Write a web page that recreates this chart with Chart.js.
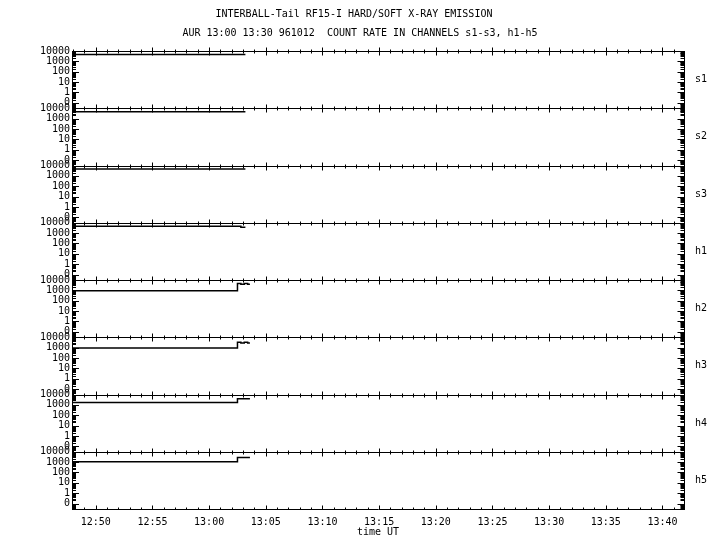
<!DOCTYPE html>
<html>
<head>
<meta charset="utf-8">
<script src="https://cdn.jsdelivr.net/npm/chart.js@4/dist/chart.umd.min.js"></script>
<style>
  body { margin: 0; background: #fff; }
  canvas { display: block; }
</style>
</head>
<body>
<canvas id="xray" width="720" height="550"></canvas>
<script>
// channel names, top panel first
const channels = ['s1', 's2', 's3', 'h1', 'h2', 'h3', 'h4', 'h5'];

// sample times, minutes after 12:00 UT
const sTimes = [47.9, 63.2];
const h1Times = [47.9, 62.8, 63.2];
const hTimes = [47.9, 62.5, 62.8, 63.1, 63.4, 63.6];

// count rates per channel
const s1 = [4500, 4500];
const s2 = [4500, 4500];
const s3 = [4500, 4500];
const h1 = [4500, 3600, 3600];
const h2 = [900, 4500, 3800, 4500, 3800, 3800];
const h3 = [900, 3300, 2800, 3300, 2800, 2800];
const h4 = [1700, 3800, 3800, 3800, 3800, 3800];
const h5 = [1100, 2800, 2800, 2800, 2800, 2800];

// y tick labels (0.1 is shown as "0")
const yTicks = [0.1, 1, 10, 100, 1000, 10000];
// x range, minutes after 12:00
const xMin = 47.9, xMax = 101.9;

const series = [
  [sTimes, s1], [sTimes, s2], [sTimes, s3], [h1Times, h1],
  [hTimes, h2], [hTimes, h3], [hTimes, h4], [hTimes, h5]
];

const mono = { family: 'DejaVu Sans Mono', size: 10 };

function hhmm(v) {
  const h = 12 + Math.floor(v / 60), m = Math.round(v % 60);
  return h + ':' + String(m).padStart(2, '0');
}

const datasets = series.map(([t, v], i) => ({
  label: channels[i],
  data: t.map((x, j) => ({ x: x, y: v[j] })),
  yAxisID: 'y' + i,
  borderColor: '#000',
  borderWidth: 1.5,
  pointRadius: 0,
  stepped: 'before',
  fill: false
}));

const scales = {
  x: {
    type: 'linear', position: 'bottom', min: xMin, max: xMax,
    afterFit: s => { s.height = 41; },
    ticks: { stepSize: 5, includeBounds: false, autoSkip: false, maxRotation: 0,
             callback: hhmm, font: mono, color: '#000', padding: 7 },
    grid: { display: false, drawTicks: false },
    border: { display: true, color: '#000', width: 1 },
    title: { display: true, text: 'time UT', font: mono, color: '#000', padding: { top: 2, bottom: 12 } }
  },
  // empty right-hand box that leaves room for the channel names
  names: {
    type: 'linear', position: 'right', afterFit: s => { s.width = 36; },
    ticks: { display: false }, grid: { display: false, drawTicks: false },
    border: { display: false }
  }
};
// stacked log axes, one per channel; highest weight sits on top
channels.forEach((c, i) => {
  scales['y' + i] = {
    type: 'logarithmic', position: 'left', stack: 'panels', stackWeight: 1,
    weight: channels.length - i, min: 0.03, max: 10000,
    afterFit: s => { s.width = 72; },
    afterBuildTicks: s => { s.ticks = yTicks.map(v => ({ value: v })); },
    ticks: { autoSkip: false, padding: 2, font: mono, color: '#000',
             callback: v => v < 1 ? '0' : String(v) },
    grid: { display: false, drawTicks: false },
    border: { display: true, color: '#000', width: 1 }
  };
});

// inward ticks on every panel border, plus channel names on the right
const frame = {
  id: 'frame',
  afterDraw(chart) {
    const ctx = chart.ctx, x = chart.scales.x;
    ctx.save();
    ctx.strokeStyle = '#000';
    ctx.lineWidth = 1;
    ctx.beginPath();
    const right = Math.round(x.right) + 0.5;
    channels.forEach((c, i) => {
      const s = chart.scales['y' + i];
      const top = Math.round(s.top) + 0.5;
      ctx.moveTo(x.left, top); ctx.lineTo(x.right, top);
      for (let m = Math.ceil(xMin); m <= xMax; m++) {
        const px = Math.round(x.getPixelForValue(m)) + 0.5;
        const h = m % 5 === 0 ? 4 : 2;
        ctx.moveTo(px, top - h); ctx.lineTo(px, top + h);
      }
      for (let d = -2; d <= 4; d++) {
        for (let k = 1; k <= 9; k++) {
          const v = k * Math.pow(10, d);
          if (v < s.min || v > s.max) continue;
          const py = Math.round(s.getPixelForValue(v)) + 0.5;
          const len = k === 1 ? 7 : 4;
          ctx.moveTo(x.left, py); ctx.lineTo(x.left + len, py);
          ctx.moveTo(right, py); ctx.lineTo(right - len, py);
        }
      }
    });
    const yb = Math.round(x.top) + 0.5;
    for (let m = Math.ceil(xMin); m <= xMax; m++) {
      const px = Math.round(x.getPixelForValue(m)) + 0.5;
      const h = m % 5 === 0 ? 4 : 2;
      ctx.moveTo(px, yb); ctx.lineTo(px, yb - h);
    }
    ctx.moveTo(right, chart.chartArea.top); ctx.lineTo(right, chart.chartArea.bottom);
    ctx.stroke();
    ctx.fillStyle = '#000';
    ctx.font = '10px "DejaVu Sans Mono"';
    ctx.textBaseline = 'middle';
    ctx.textAlign = 'left';
    channels.forEach((c, i) => {
      const s = chart.scales['y' + i];
      ctx.fillText(c, x.right + 11, (s.top + s.bottom) / 2);
    });
    ctx.restore();
  }
};

new Chart(document.getElementById('xray').getContext('2d'), {
  type: 'line',
  data: { datasets: datasets },
  options: {
    responsive: false,
    animation: false,
    layout: { padding: 0 },
    scales: scales,
    plugins: {
      legend: { display: false },
      tooltip: { enabled: false },
      title: {
        display: true,
        text: ['INTERBALL-Tail RF15-I HARD/SOFT X-RAY EMISSION  ',
               'AUR 13:00 13:30 961012  COUNT RATE IN CHANNELS s1-s3, h1-h5'],
        font: { family: 'DejaVu Sans Mono', size: 10, weight: 'normal', lineHeight: 1.9 },
        color: '#000',
        padding: { top: 5, bottom: 8 }
      }
    }
  },
  plugins: [frame]
});
</script>
</body>
</html>
